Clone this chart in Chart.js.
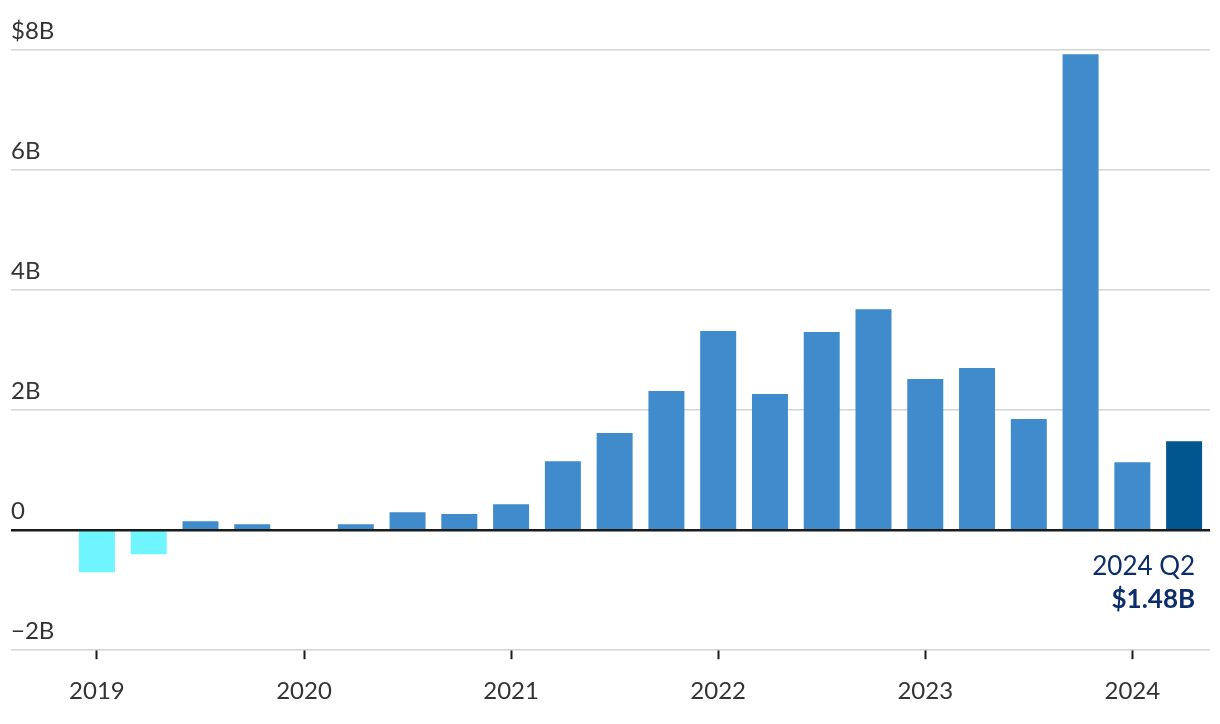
<!DOCTYPE html>
<html>
<head>
<meta charset="utf-8">
<script src="https://cdn.jsdelivr.net/npm/chart.js@4.4.1/dist/chart.umd.min.js"></script>
<style>
  html, body { margin: 0; padding: 0; background: #fff; }
  #wrap { width: 1220px; height: 724px; }
</style>
</head>
<body>
<div id="wrap"><canvas id="chart" width="1220" height="724"></canvas></div>
<script>
// Quarterly values, in billions of dollars
const quarters = [
  "2019 Q1", "2019 Q2", "2019 Q3", "2019 Q4",
  "2020 Q1", "2020 Q2", "2020 Q3", "2020 Q4",
  "2021 Q1", "2021 Q2", "2021 Q3", "2021 Q4",
  "2022 Q1", "2022 Q2", "2022 Q3", "2022 Q4",
  "2023 Q1", "2023 Q2", "2023 Q3", "2023 Q4",
  "2024 Q1", "2024 Q2"
];
const values = [
  -0.70, -0.40, 0.15, 0.10,
  0.00, 0.10, 0.30, 0.27,
  0.43, 1.15, 1.62, 2.32,
  3.32, 2.27, 3.30, 3.68,
  2.52, 2.70, 1.85, 7.93,
  1.13, 1.48
];
const yearLabels = ["2019", "2020", "2021", "2022", "2023", "2024"];
const yTicks = [-2, 0, 2, 4, 6, 8];

const lastIdx = values.length - 1;
const barColors = values.map((v, i) =>
  i === lastIdx ? "#02568f" : v < 0 ? "#6ff5fe" : "#3f8bcb"
);

const fontFamily = "Lato, 'Open Sans', sans-serif";

// zero line on top of bars + last-value note
const overlay = {
  id: "overlay",
  afterDatasetsDraw(chart) {
    const { ctx, chartArea, scales } = chart;
    const y0 = scales.y.getPixelForValue(0);
    ctx.save();
    ctx.strokeStyle = "#1b1b1b";
    ctx.lineWidth = 2.5;
    ctx.beginPath();
    ctx.moveTo(chartArea.left, y0);
    ctx.lineTo(chartArea.right, y0);
    ctx.stroke();

    const xr = scales.x.getPixelForValue(lastIdx) + 11;
    ctx.fillStyle = "#0c2d6b";
    ctx.textAlign = "right";
    ctx.textBaseline = "middle";
    ctx.font = "26px " + fontFamily;
    ctx.fillText(quarters[lastIdx], xr, y0 + 36);
    ctx.font = "bold 26px " + fontFamily;
    ctx.fillText("$" + values[lastIdx].toFixed(2) + "B", xr, y0 + 69);
    ctx.restore();
  }
};

new Chart(document.getElementById("chart"), {
  type: "bar",
  data: {
    datasets: [{
      data: values.map((v, i) => ({ x: i, y: v })),
      backgroundColor: barColors,
      borderWidth: 0,
      categoryPercentage: 1,
      barPercentage: 0.695
    }]
  },
  options: {
    responsive: false,
    animation: false,
    layout: { padding: { top: 50, left: 11, right: 10, bottom: 0 } },
    plugins: {
      legend: { display: false },
      tooltip: { enabled: false }
    },
    scales: {
      x: {
        type: "linear",
        min: -1.66,
        max: 21.5,
        offset: false,
        border: { display: false },
        grid: {
          offset: false,
          drawOnChartArea: false,
          drawTicks: true,
          tickLength: 9,
          tickColor: "#1b1b1b",
          tickWidth: 2
        },
        afterBuildTicks(scale) {
          scale.ticks = yearLabels.map((_, k) => ({ value: k * 4 }));
        },
        ticks: {
          padding: 18,
          color: "#333",
          font: { family: fontFamily, size: 24 },
          maxRotation: 0,
          autoSkip: false,
          callback: (v) => yearLabels[Math.round(v / 4)]
        }
      },
      y: {
        min: -2,
        max: 8,
        border: { display: false },
        afterBuildTicks(scale) {
          scale.ticks = yTicks.map(v => ({ value: v }));
        },
        grid: {
          drawTicks: false,
          lineWidth: 1.5,
          color: (c) => c.tick && c.tick.value === 0 ? "rgba(0,0,0,0)" : "#d4d4d4"
        },
        ticks: {
          mirror: true,
          padding: 0,
          labelOffset: -19,
          color: "#333",
          font: { family: fontFamily, size: 24 },
          callback: (v) => v === 8 ? "$8B" : v === 0 ? "0" : v < 0 ? "\u2212" + Math.abs(v) + "B" : v + "B"
        }
      }
    }
  },
  plugins: [overlay]
});
</script>
</body>
</html>
